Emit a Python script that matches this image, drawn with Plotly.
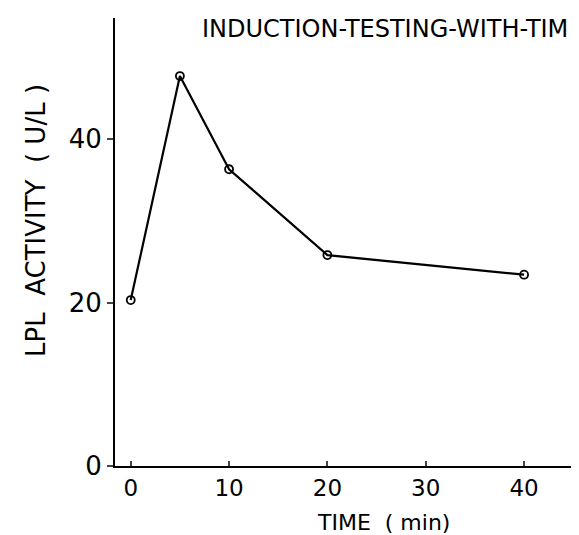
import plotly.graph_objects as go

# LPL activity after induction
time_min = [0, 5, 10, 20, 40]
lpl_activity = [20.3, 47.7, 36.3, 25.8, 23.4]

x_ticks = [0, 10, 20, 30, 40]
y_ticks = [0, 20, 40]

FONT = "DejaVu Sans"

# plot area in pixels: left 107, right 579, top 10, bottom 458
L, R, T, B = 107, 579, 10, 458
W, H = R - L, B - T

fig = go.Figure()
fig.add_trace(go.Scatter(
    x=time_min, y=lpl_activity,
    mode="lines+markers",
    line=dict(color="black", width=2.2),
    marker=dict(symbol="circle-open", size=8, color="black", line=dict(width=1.8)),
    cliponaxis=False,
    showlegend=False,
))

fig.update_layout(
    width=579, height=535,
    margin=dict(l=L, r=579 - R, t=T, b=535 - B),
    paper_bgcolor="white", plot_bgcolor="white",
    font=dict(family=FONT, color="black"),
    xaxis=dict(
        range=[-1.6, 46.4], tickvals=x_ticks, ticks="inside", ticklen=5,
        tickwidth=1.5, showline=True, linecolor="black", linewidth=2,
        showgrid=False, zeroline=False, tickfont=dict(size=23),
    ),
    yaxis=dict(
        range=[0, 54.8], tickvals=y_ticks, ticks="outside", ticklen=6,
        tickwidth=1.5, showline=True, linecolor="black", linewidth=2,
        showgrid=False, zeroline=False, tickfont=dict(size=26),
    ),
)

fig.add_annotation(
    text="INDUCTION-TESTING-WITH-TIM", xref="paper", yref="paper",
    x=(192 - L) / W, y=(B - 5) / H, xanchor="left", yanchor="top",
    showarrow=False, font=dict(size=24),
)
fig.add_annotation(
    text="LPL  ACTIVITY  ( U/L )", xref="paper", yref="paper",
    x=(28 - L) / W, y=(B - 213) / H, xanchor="center", yanchor="middle",
    textangle=-90, showarrow=False, font=dict(size=26),
)
fig.add_annotation(
    text="TIME  ( min)", xref="paper", yref="paper",
    x=(375 - L) / W, y=(B - 514) / H, xanchor="center", yanchor="middle",
    showarrow=False, font=dict(size=22),
)

fig.write_html("out.html")
